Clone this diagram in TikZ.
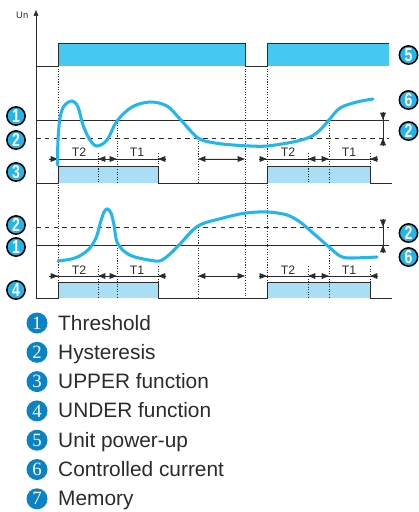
\documentclass[tikz,border=0pt]{standalone}
\usepackage{fontspec}
\setmainfont{Liberation Sans}
\newfontfamily\numserif{Liberation Serif}
\usetikzlibrary{arrows.meta,positioning}

\definecolor{powercyan}{HTML}{45C8F2}
\definecolor{curvecyan}{HTML}{22B6EE}
\definecolor{relayblue}{HTML}{AADDF6}
\definecolor{badgecyan}{HTML}{22B5EC}
\definecolor{legendblue}{HTML}{0B82C4}
\definecolor{inkgray}{HTML}{2B2B2B}

\newcommand{\cnum}[1]{\scalebox{0.75}[1]{\bfseries #1}}

\begin{document}
\begin{tikzpicture}[x=0.03cm, y=-0.03cm,
    trace/.style={draw=inkgray, line width=0.6pt},
    hyst/.style={draw=inkgray, line width=0.6pt, dash pattern=on 4pt off 3.5pt},
    guide/.style={draw=inkgray, line width=0.5pt, dash pattern=on 0.9pt off 1.3pt},
    current/.style={draw=curvecyan, line width=2.6pt, line cap=round},
    dimtip/.style={-{Triangle[length=2.2mm,width=1.7mm]}, draw=inkgray, fill=inkgray, line width=0.6pt},
    twotip/.style={{Triangle[length=2.2mm,width=1.7mm]}-{Triangle[length=2.2mm,width=1.7mm]}, draw=inkgray, fill=inkgray, line width=0.6pt},
    badge/.style={circle, draw=black, line width=1.3pt, fill=badgecyan, text=white, inner sep=0pt, minimum size=0.55cm, font=\fontsize{16}{16}\selectfont},
    legbadge/.style={circle, fill=legendblue, text=white, inner sep=0pt, minimum size=0.63cm, font=\numserif\fontsize{16}{16}\selectfont},
    legtext/.style={anchor=base west, inner sep=0pt, text=inkgray, font=\fontsize{17.8}{18}\selectfont},
    tlabel/.style={anchor=base, inner sep=0pt, text=inkgray, font=\fontsize{10.5}{11}\selectfont},
]
    \useasboundingbox (0,0) rectangle (418,512);

    % axis
    \node[anchor=base west, inner sep=0pt, text=inkgray, font=\fontsize{8}{8}\selectfont] (un) at (16,18.3) {Un};
    \draw[trace, -{Triangle[length=1.8mm,width=1.4mm]}] (36,298) -- (36,10);

    % fills
    \fill[powercyan] (58,43) rectangle (245,66);
    \fill[powercyan] (267,43) rectangle (389,66);
    \fill[relayblue] (58,166) rectangle (158,183);
    \fill[relayblue] (267,166) rectangle (370,183);
    \fill[relayblue] (58,282) rectangle (158,298);
    \fill[relayblue] (267,282) rectangle (370,298);

    % dotted guides
    \foreach \gx in {58,245,267}
        \draw[guide] (\gx,66) -- (\gx,298);
    \foreach \gx in {98,308} {
        \draw[guide] (\gx,153) -- (\gx,183);
        \draw[guide] (\gx,266) -- (\gx,298);
    }
    \foreach \gx in {158,370} {
        \draw[guide] (\gx,153) -- (\gx,166);
        \draw[guide] (\gx,266) -- (\gx,282);
    }
    \draw[guide] (117,120) -- (117,183);
    \draw[guide] (117,245) -- (117,298);
    \draw[guide] (329,120) -- (329,183);
    \draw[guide] (329,245) -- (329,298);
    \draw[guide] (198,138) -- (198,183);
    \draw[guide] (198,227) -- (198,298);

    % threshold and hysteresis levels
    \draw[trace] (36,120) -- (389,120);
    \draw[hyst] (36,138) -- (389,138);
    \draw[hyst] (36,227) -- (389,227);
    \draw[trace] (36,245) -- (389,245);

    % unit power-up
    \draw[trace] (36,66) -- (58,66) -- (58,43) -- (245,43) -- (245,66) -- (267,66) -- (267,43) -- (389,43);

    % relay outputs
    \foreach \yb/\yt in {183/166,298/282}
        \draw[trace] (36,\yb) -- (58,\yb) -- (58,\yt) -- (158,\yt) -- (158,\yb) -- (267,\yb)
            -- (267,\yt) -- (370,\yt) -- (370,\yb) -- (392,\yb);

    % timing marks
    \foreach \ty in {159,276} {
        \draw[trace] (49,\ty) -- (166,\ty);
        \draw[dimtip] (49,\ty) -- (58,\ty);
        \draw[dimtip] (106,\ty) -- (98,\ty);
        \draw[dimtip] (109,\ty) -- (117,\ty);
        \draw[dimtip] (166,\ty) -- (158,\ty);
        \draw[twotip] (198,\ty) -- (245,\ty);
        \draw[trace] (259,\ty) -- (378,\ty);
        \draw[dimtip] (259,\ty) -- (267,\ty);
        \draw[dimtip] (316,\ty) -- (308,\ty);
        \draw[dimtip] (321,\ty) -- (329,\ty);
        \draw[dimtip] (378,\ty) -- (370,\ty);
    }
    \node[tlabel] (tA) at (79,157) {T2};
    \node[tlabel] (tB) at (137,157) {T1};
    \node[tlabel] (tC) at (288,157) {T2};
    \node[tlabel] (tD) at (349,157) {T1};
    \node[tlabel] (tE) at (79,274) {T2};
    \node[tlabel] (tF) at (137,274) {T1};
    \node[tlabel] (tG) at (288,274) {T2};
    \node[tlabel] (tH) at (349,274) {T1};

    % hysteresis span
    \draw[trace] (383,112) -- (383,146);
    \draw[dimtip] (383,112) -- (383,120);
    \draw[dimtip] (383,146) -- (383,138);
    \draw[trace] (383,219) -- (383,253);
    \draw[dimtip] (383,219) -- (383,227);
    \draw[dimtip] (383,253) -- (383,245);

    % controlled current
    \draw[current] plot[smooth, tension=0.55] coordinates {
        (57.5,165) (58,140) (60,118) (64,106) (72,101) (78,107) (83,125) (90,140) (97,146)
        (107,140) (117,121) (132,107) (150,102) (167,106) (180,119) (198,138) (215,143)
        (233,145) (250,146) (267,146) (293,142) (310,137) (320,130) (329,120) (340,108)
        (357,102) (373,99)};
    \draw[current] plot[smooth, tension=0.55] coordinates {
        (58,261) (75,258) (88,250) (96,238) (100,224) (104,212) (107.5,209) (111,213)
        (114,225) (117,242) (125,252) (135,257) (155,261) (162,260) (170,254) (180,244) (198,226)
        (223,218) (246,213) (268,212) (287,215) (300,222) (313,233) (329,247) (340,256)
        (350,258) (377,257)};

    % numbered marks
    \node[badge] (lthr) at (16,116) {\cnum{1}};
    \node[badge] (lhys) at (16,140) {\cnum{2}};
    \node[badge] (lupp) at (16,172) {\cnum{3}};
    \node[badge] (lhysb) at (16,225) {\cnum{2}};
    \node[badge] (lthrb) at (16,247) {\cnum{1}};
    \node[badge] (lund) at (16,290) {\cnum{4}};
    \node[badge] (rpow) at (408.5,55) {\cnum{5}};
    \node[badge] (rcur) at (408.5,100) {\cnum{6}};
    \node[badge] (rhys) at (408.5,131) {\cnum{2}};
    \node[badge] (rhysb) at (408.5,233) {\cnum{2}};
    \node[badge] (rcurb) at (408.5,257) {\cnum{6}};

    % legend
    \foreach \n/\txt [count=\k from 0] in {1/Threshold, 2/Hysteresis, 3/UPPER function,
        4/UNDER function, 5/Unit power-up, 6/Controlled current, 7/Memory} {
        \node[legbadge] (key\n) at (37,323+29.3*\k) {\n};
        \node[legtext] (item\n) at (58,330+29.3*\k) {\txt};
    }
\end{tikzpicture}
\end{document}
